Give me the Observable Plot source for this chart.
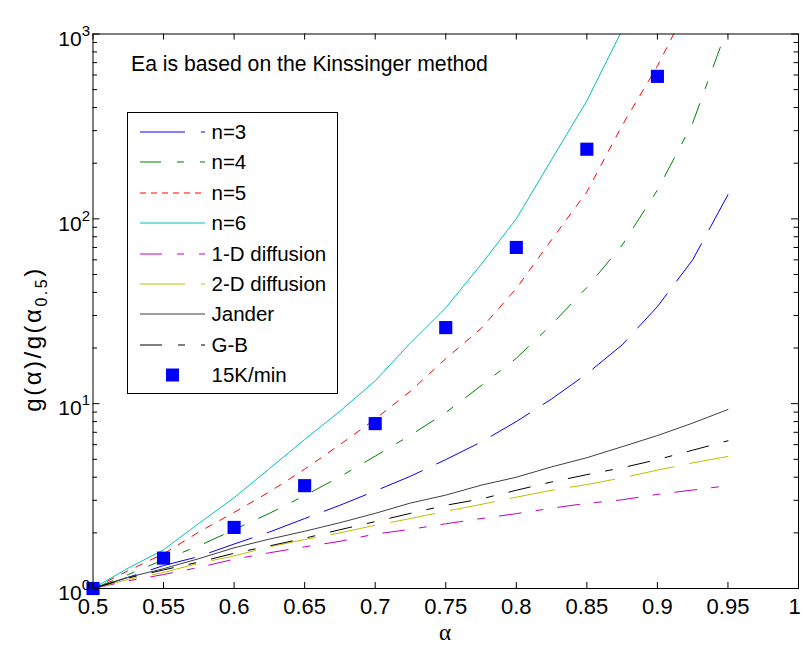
<!DOCTYPE html>
<html><head><meta charset="utf-8">
<script src="https://cdn.jsdelivr.net/npm/d3@7"></script>
<script src="https://cdn.jsdelivr.net/npm/@observablehq/plot@0.6"></script>
<style>
body{margin:0;background:#fff;}
#chart{position:relative;width:803px;height:646px;}
</style>
</head><body><div id="chart"></div>
<script>
// ---- data ----
const alpha = [0.5,0.525,0.55,0.575,0.6,0.625,0.65,0.675,0.7,0.725,0.75,0.775,0.8,0.825,0.85,0.875,0.9,0.925,0.95];
const n3 = [1,1.15,1.33,1.49,1.74,2.02,2.39,2.82,3.37,4.05,4.98,6.2,8.0,10.6,14.5,20.8,33.5,60,135];
const n4 = [1,1.19,1.43,1.70,2.08,2.55,3.18,4.02,5.2,6.75,8.95,12.5,17.6,26.8,42.5,72,143,330,1100];
const n5 = [1,1.25,1.54,2.02,2.58,3.33,4.42,6.0,8.25,11.7,17.5,25.5,42,77,140,320,670,1600];
const n6 = [1,1.29,1.62,2.25,3.1,4.45,6.4,9.1,13.3,21.3,33,56.5,100,209,435,1050];
const diff1D = [1,1.1,1.19,1.3,1.44,1.56,1.68,1.8,1.97,2.09,2.24,2.39,2.54,2.72,2.89,3.02,3.23,3.41,3.6];
const diff2D = [1,1.12,1.22,1.37,1.5,1.68,1.84,2.0,2.2,2.39,2.62,2.85,3.12,3.4,3.65,3.97,4.37,4.78,5.18];
const jander = [1,1.15,1.28,1.45,1.66,1.85,2.04,2.27,2.55,2.9,3.2,3.62,4.0,4.55,5.1,5.85,6.72,7.85,9.3];
const gb = [1,1.14,1.26,1.39,1.55,1.7,1.87,2.08,2.3,2.55,2.82,3.05,3.4,3.77,4.13,4.5,4.98,5.6,6.3];
const expAlpha = [0.5,0.55,0.6,0.65,0.7,0.75,0.8,0.85,0.9];
const expValue = [1,1.46,2.14,3.6,7.8,25.8,70,238,590];
const xTicks = [0.5,0.55,0.6,0.65,0.7,0.75,0.8,0.85,0.9,0.95,1];
const xTickLabels = ["0.5","0.55","0.6","0.65","0.7","0.75","0.8","0.85","0.9","0.95","1"];
const yMajor = [1,10,100,1000];
const yMajorExp = ["0","1","2","3"];
const yMinor = [2,3,4,5,6,7,8,9,20,30,40,50,60,70,80,90,200,300,400,500,600,700,800,900];
const seriesNames = ["n=3","n=4","n=5","n=6","1-D diffusion","2-D diffusion","Jander","G-B"];
const seriesValues = [n3,n4,n5,n6,diff1D,diff2D,jander,gb];
const expName = "15K/min";
const annotation = "Ea is based on the Kinssinger method";

// ---- styles ----
const colors = ["#0000ff","#008000","#ff0000","#00bfbf","#bf00bf","#bfbf00","#404040","#000000"];
const dashes = ["45,16","21,16,7,16","7,9",null,"22,15,7,15","45,16",null,"22,16,7,16"];
const legendDashes = ["45,16","21,16,7,16","6,5",null,"22,15,7,15","45,16",null,"22,16,7,16"];

const W = 803, H = 646;
const mL = 92.5, mR = 5, mT = 33.5, mB = 58;
const fw = W - mL - mR, fh = H - mT - mB;

const rows = seriesValues.flatMap((vals, s) => vals.map((v, i) => ({a: alpha[i], v, s})));
const exp = expAlpha.map((a, i) => ({a, v: expValue[i]}));

const lineMarks = seriesNames.map((name, s) =>
  Plot.line(rows.filter(d => d.s === s), {
    x: "a", y: "v", stroke: colors[s], strokeWidth: 1,
    strokeDasharray: dashes[s], clip: true
  })
);

const chart = Plot.plot({
  width: W, height: H,
  marginLeft: mL, marginRight: mR, marginTop: mT, marginBottom: mB,
  style: {fontFamily: "'Liberation Sans', Arial, sans-serif", fontSize: "20px", background: "#fff", color: "#000"},
  x: {domain: [0.5, 1]},
  y: {type: "log", domain: [1, 1000]},
  marks: [
    ...lineMarks,
    Plot.dot(exp, {x: "a", y: "v", symbol: "square", r: 7.4, fill: "#0000ff", stroke: null}),
    Plot.frame({stroke: "#000", strokeWidth: 1}),
    // inward ticks on all four sides
    Plot.tickX(xTicks, {x: d => d, insetTop: fh - 6, stroke: "#000"}),
    Plot.tickX(xTicks, {x: d => d, insetBottom: fh - 6, stroke: "#000"}),
    Plot.tickY(yMajor, {y: d => d, insetRight: fw - 7, stroke: "#000"}),
    Plot.tickY(yMajor, {y: d => d, insetLeft: fw - 7, stroke: "#000"}),
    Plot.tickY(yMinor, {y: d => d, insetRight: fw - 4.5, stroke: "#000"}),
    Plot.tickY(yMinor, {y: d => d, insetLeft: fw - 4.5, stroke: "#000"}),
    Plot.axisX(xTicks, {tickSize: 0, tickPadding: 10, fontSize: 22, label: null,
      tickFormat: d => xTickLabels[xTicks.indexOf(d)]}),
    Plot.axisY(yMajor, {tickSize: 0, tickPadding: 3, fontSize: 21, label: null, dy: 5,
      tickFormat: d => "10^" + yMajorExp[yMajor.indexOf(d)]}),
    Plot.text([annotation], {frameAnchor: "top-left", dx: 38, dy: 30, textAnchor: "start",
      lineAnchor: "middle", fontSize: 21.2, fill: "#000"})
  ]
});

const svg = d3.select(chart);
// superscripts on y tick labels
svg.selectAll('g[aria-label="y-axis tick label"] text').each(function() {
  const t = d3.select(this);
  const parts = t.text().split("^");
  t.text(parts[0]);
  t.append("tspan").attr("dy", "-10").attr("font-size", 15).text(parts[1]);
});
// keep the last x label ("1") inside the picture edge
const xl = svg.selectAll('g[aria-label="x-axis tick label"] text').nodes();
if (xl.length) d3.select(xl[xl.length - 1]).attr("dx", -4);

// y label
const yl = svg.append("text")
  .attr("transform", "translate(41,339) rotate(-90)")
  .attr("text-anchor", "middle")
  .attr("font-size", 24)
  .attr("letter-spacing", 2.5)
  .style("fill", "#000");
yl.append("tspan").text("g(α)/g(α");
yl.append("tspan").attr("font-size", 16).attr("dy", 6).text("0.5");
yl.append("tspan").attr("dy", -6).text(")");

// x label
svg.append("text").attr("x", 445).attr("y", 640).attr("text-anchor", "middle")
  .attr("font-family", "'Liberation Serif', serif").attr("font-size", 23).style("fill", "#000").text("α");

// legend
const lg = svg.append("g").attr("text-anchor", "start");
lg.append("rect").attr("x", 127.5).attr("y", 112.5).attr("width", 210).attr("height", 281)
  .style("fill", "#fff").style("stroke", "#000").attr("stroke-width", 1);
const rowY = i => 132 + Math.round(i * 30.4);
seriesNames.forEach((name, s) => {
  const ln = lg.append("line").attr("x1", 140).attr("x2", 205).attr("y1", rowY(s)).attr("y2", rowY(s))
    .style("stroke", colors[s]).style("stroke-width", "1.1px");
  if (legendDashes[s]) ln.style("stroke-dasharray", legendDashes[s]);
  lg.append("text").attr("x", 211.5).attr("y", rowY(s)).attr("dy", "0.35em")
    .attr("text-anchor", "start").attr("font-size", 20.5).style("fill", "#000").text(name);
});
lg.append("rect").attr("x", 172.5 - 6.5).attr("y", rowY(8) - 6.5).attr("width", 13).attr("height", 13).style("fill", "#0000ff");
lg.append("text").attr("x", 211.5).attr("y", rowY(8)).attr("dy", "0.35em")
  .attr("text-anchor", "start").attr("font-size", 20.5).style("fill", "#000").text(expName);

document.getElementById("chart").appendChild(chart);
</script>
</body></html>
